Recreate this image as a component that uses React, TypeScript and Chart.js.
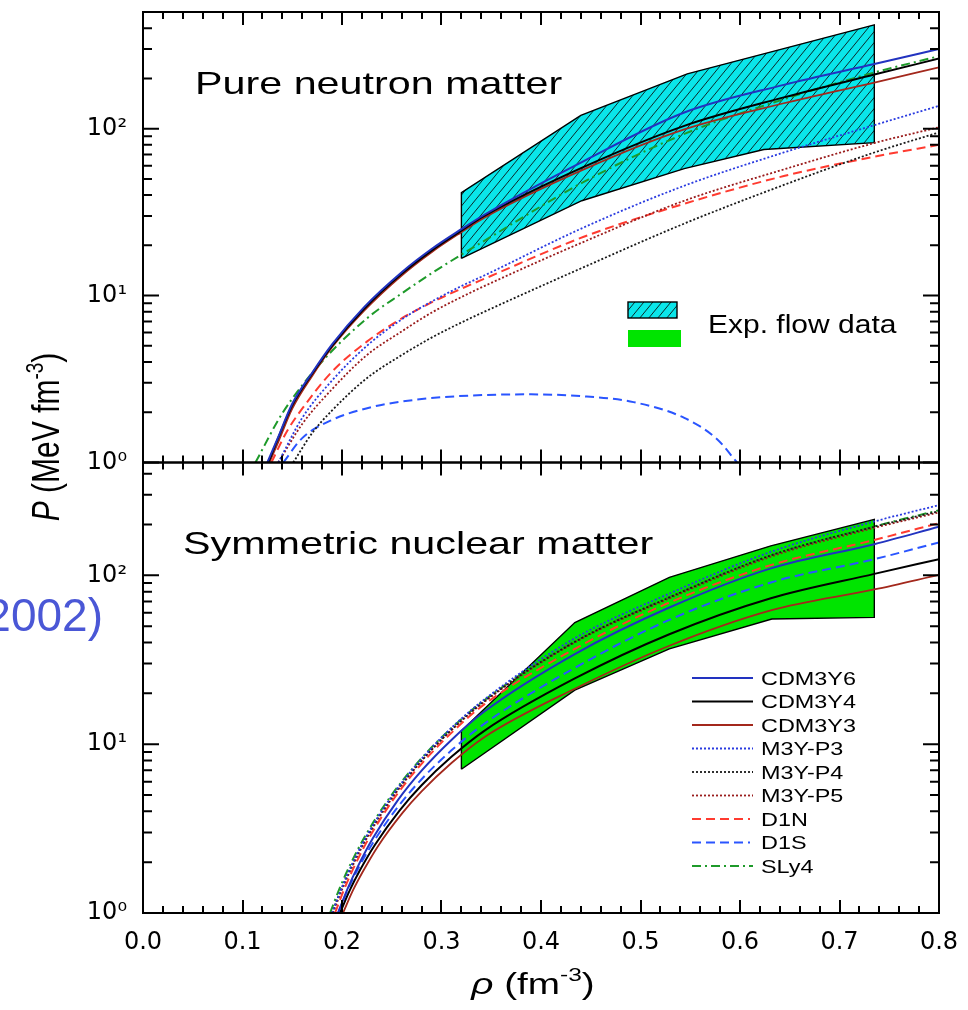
import React, { useEffect, useRef } from 'react';
import { Chart, registerables } from 'chart.js';

Chart.register(...registerables);

type Pt = [number, number];

// ---------------- axes / labels ----------------
const xTickValues = [0, 0.1, 0.2, 0.3, 0.4, 0.5, 0.6, 0.7, 0.8];
const xTickLabels = ['0.0', '0.1', '0.2', '0.3', '0.4', '0.5', '0.6', '0.7', '0.8'];
const yTickValues = [1, 10, 100];
const yTickLabels = ['10\u2070', '10\u00B9', '10\u00B2'];
const xRange = [0, 0.8];
const yTopRange = [1, 500];
const yBotRange = [1, 466];

const panelTitles = ['Pure neutron matter', 'Symmetric nuclear matter'];
const seriesNames = ['CDM3Y6', 'CDM3Y4', 'CDM3Y3', 'M3Y-P3', 'M3Y-P4', 'M3Y-P5', 'D1N', 'D1S', 'SLy4'];
const flowLabel = 'Exp. flow data';
const sideNote = '2002)';

// ---------------- Pure neutron matter (rho, P) ----------------
const pnmCDM3Y6: Pt[] = [[0.125, 1.0], [0.135, 1.38], [0.15, 2.25], [0.17, 3.45], [0.19, 5.1], [0.222, 8.5], [0.26, 13.8], [0.29, 19], [0.32, 25], [0.343, 30.5], [0.443, 64], [0.544, 125], [0.644, 183], [0.735, 244], [0.8, 300]];
const pnmCDM3Y4: Pt[] = [[0.126, 1.0], [0.135, 1.36], [0.15, 2.2], [0.17, 3.4], [0.19, 5.0], [0.222, 8.3], [0.26, 13.5], [0.29, 18.6], [0.32, 24.5], [0.343, 30], [0.443, 59], [0.544, 104], [0.644, 154], [0.735, 211], [0.8, 263]];
const pnmCDM3Y3: Pt[] = [[0.127, 1.0], [0.136, 1.33], [0.15, 2.1], [0.17, 3.3], [0.19, 4.9], [0.222, 8.1], [0.26, 13.2], [0.29, 18.2], [0.32, 24], [0.343, 29.3], [0.443, 57], [0.544, 99], [0.644, 142], [0.735, 189], [0.8, 233]];
const pnmM3YP3: Pt[] = [[0.136, 1.0], [0.16, 1.85], [0.19, 3.1], [0.225, 5.0], [0.26, 7.2], [0.29, 9.2], [0.32, 11.4], [0.343, 13.2], [0.443, 25.6], [0.544, 45.5], [0.644, 72], [0.735, 105], [0.8, 137]];
const pnmM3YP4: Pt[] = [[0.151, 1.0], [0.17, 1.5], [0.19, 2.05], [0.225, 3.2], [0.26, 4.4], [0.29, 5.6], [0.32, 6.9], [0.343, 8.0], [0.443, 14.8], [0.544, 27], [0.644, 46], [0.735, 72], [0.8, 95]];
const pnmM3YP5: Pt[] = [[0.136, 1.0], [0.16, 1.7], [0.19, 2.75], [0.225, 4.4], [0.26, 6.1], [0.29, 7.9], [0.32, 9.8], [0.343, 11.4], [0.443, 21], [0.544, 37], [0.644, 57], [0.735, 82], [0.8, 102]];
const pnmD1N: Pt[] = [[0.129, 1.0], [0.145, 1.55], [0.16, 2.1], [0.19, 3.5], [0.225, 5.3], [0.26, 7.3], [0.29, 9.1], [0.32, 11.0], [0.343, 12.6], [0.443, 22.5], [0.544, 35.5], [0.644, 52], [0.735, 68], [0.8, 80]];
const pnmD1S: Pt[] = [[0.141, 1.0], [0.16, 1.4], [0.19, 1.8], [0.23, 2.15], [0.275, 2.38], [0.33, 2.52], [0.39, 2.56], [0.44, 2.5], [0.493, 2.3], [0.544, 1.85], [0.577, 1.38], [0.597, 1.0]];
const pnmSLy4: Pt[] = [[0.113, 1.0], [0.14, 1.97], [0.178, 3.9], [0.225, 7.3], [0.26, 10.3], [0.29, 13.6], [0.32, 17.6], [0.343, 21.3], [0.443, 48], [0.544, 93], [0.644, 150], [0.735, 217], [0.8, 272]];
const pnmFlowBand: Pt[] = [[0.32, 16.7], [0.32, 41.4], [0.44, 120], [0.547, 213], [0.735, 419], [0.735, 82.5], [0.624, 75], [0.544, 57.6], [0.441, 37], [0.32, 16.7]];

// ---------------- Symmetric nuclear matter (rho, P) ----------------
const snmCDM3Y6: Pt[] = [[0.196, 1.0], [0.206, 1.41], [0.216, 1.89], [0.231, 2.77], [0.256, 4.65], [0.28, 6.97], [0.31, 10.6], [0.343, 15.6], [0.434, 34.2], [0.529, 64.5], [0.631, 110], [0.735, 153], [0.8, 194]];
const snmCDM3Y4: Pt[] = [[0.198, 1.0], [0.208, 1.37], [0.218, 1.79], [0.233, 2.53], [0.258, 4.06], [0.28, 5.71], [0.31, 8.41], [0.343, 12.0], [0.434, 24.5], [0.529, 44.8], [0.631, 73.2], [0.735, 102], [0.8, 124.7]];
const snmCDM3Y3: Pt[] = [[0.201, 1.0], [0.211, 1.36], [0.221, 1.76], [0.236, 2.48], [0.261, 3.93], [0.28, 5.25], [0.31, 7.73], [0.343, 11.0], [0.434, 21.3], [0.529, 38.3], [0.631, 62], [0.735, 82.5], [0.8, 100.7]];
const snmM3YP3: Pt[] = [[0.19, 1.0], [0.2, 1.42], [0.21, 1.94], [0.225, 2.88], [0.25, 4.92], [0.28, 8.2], [0.31, 12.5], [0.343, 18.4], [0.434, 42.4], [0.529, 78], [0.631, 137.8], [0.735, 208.5], [0.8, 260.7]];
const snmM3YP4: Pt[] = [[0.19, 1.0], [0.2, 1.42], [0.21, 1.92], [0.225, 2.84], [0.25, 4.84], [0.28, 8.0], [0.31, 12.2], [0.343, 18.0], [0.434, 40.4], [0.529, 74], [0.631, 131.4], [0.735, 194], [0.8, 240]];
const snmM3YP5: Pt[] = [[0.191, 1.0], [0.201, 1.42], [0.211, 1.92], [0.226, 2.84], [0.251, 4.84], [0.28, 7.96], [0.31, 12.1], [0.343, 17.8], [0.434, 40], [0.529, 73], [0.631, 129], [0.735, 191], [0.8, 236]];
const snmD1N: Pt[] = [[0.193, 1.0], [0.203, 1.42], [0.213, 1.92], [0.228, 2.84], [0.253, 4.83], [0.28, 7.65], [0.31, 11.67], [0.343, 17.2], [0.434, 36.7], [0.529, 69], [0.631, 115], [0.735, 162], [0.8, 204]];
const snmD1S: Pt[] = [[0.196, 1.0], [0.206, 1.38], [0.216, 1.82], [0.231, 2.6], [0.256, 4.24], [0.28, 6.2], [0.31, 9.19], [0.343, 13.2], [0.434, 28.3], [0.529, 54.5], [0.631, 90.7], [0.735, 124.7], [0.8, 156.7]];
const snmSLy4: Pt[] = [[0.188, 1.0], [0.198, 1.42], [0.208, 1.92], [0.223, 2.84], [0.248, 4.83], [0.28, 8.27], [0.31, 12.45], [0.343, 18.2], [0.434, 40.6], [0.529, 74.5], [0.631, 131], [0.735, 195], [0.8, 243]];
const snmFlowBand: Pt[] = [[0.32, 7.1], [0.32, 12.0], [0.434, 52.5], [0.529, 97.3], [0.631, 149.5], [0.735, 214.5], [0.735, 56.4], [0.632, 55.1], [0.529, 36.7], [0.434, 20.9], [0.32, 7.1]];

const pnmSeries: Pt[][] = [pnmCDM3Y6, pnmCDM3Y4, pnmCDM3Y3, pnmM3YP3, pnmM3YP4, pnmM3YP5, pnmD1N, pnmD1S, pnmSLy4];
const snmSeries: Pt[][] = [snmCDM3Y6, snmCDM3Y4, snmCDM3Y3, snmM3YP3, snmM3YP4, snmM3YP5, snmD1N, snmD1S, snmSLy4];

// ---------------- styles ----------------
const STYLE: Record<string, { color: string; dash: number[]; width: number; legendEnd: number }> = {
  CDM3Y6: { color: '#2233c0', dash: [], width: 2, legendEnd: 61 },
  CDM3Y4: { color: '#000000', dash: [], width: 2, legendEnd: 61 },
  CDM3Y3: { color: '#a3281c', dash: [], width: 1.8, legendEnd: 61 },
  'M3Y-P3': { color: '#2a3be0', dash: [2, 2], width: 1.8, legendEnd: 61 },
  'M3Y-P4': { color: '#1a1a1a', dash: [2, 2], width: 1.8, legendEnd: 61 },
  'M3Y-P5': { color: '#9a1c1c', dash: [2, 2], width: 1.8, legendEnd: 61 },
  D1N: { color: '#ff3b30', dash: [9, 5], width: 2, legendEnd: 58 },
  D1S: { color: '#2a55ff', dash: [9, 5], width: 2, legendEnd: 58 },
  SLy4: { color: '#1e9a2a', dash: [9, 4, 2, 4], width: 2, legendEnd: 61 },
};
const CYAN = '#0ae6ea';
const GREEN = '#00e400';
const SANS = "'Liberation Sans', Arial, sans-serif";
const TICK_FONT = "'DejaVu Sans', sans-serif";
const SX = 1.29;

type Part = { t: string; italic?: boolean; sup?: boolean };

function drawRich(ctx: CanvasRenderingContext2D, parts: Part[], size: number, color: string, align: 'left' | 'center' | 'right') {
  const fontOf = (p: Part) => `${p.italic ? 'italic ' : ''}${p.sup ? Math.round(size * 0.62) : size}px ${SANS}`;
  let total = 0;
  const widths = parts.map((p) => {
    ctx.font = fontOf(p);
    const w = ctx.measureText(p.t).width;
    total += w;
    return w;
  });
  let x = align === 'center' ? -total / 2 : align === 'right' ? -total : 0;
  ctx.fillStyle = color;
  ctx.textBaseline = 'alphabetic';
  ctx.textAlign = 'left';
  parts.forEach((p, i) => {
    ctx.font = fontOf(p);
    ctx.fillText(p.t, x, p.sup ? -size * 0.42 : 0);
    x += widths[i];
  });
}

function textAt(ctx: CanvasRenderingContext2D, parts: Part[], x: number, y: number, size: number, sx: number, align: 'left' | 'center' | 'right', color = '#000', rotate = 0) {
  ctx.save();
  ctx.translate(x, y);
  ctx.scale(sx, 1);
  if (rotate) ctx.rotate(rotate);
  drawRich(ctx, parts, size, color, align);
  ctx.restore();
}

function makeHatch(ctx: CanvasRenderingContext2D): CanvasPattern | string {
  const c = document.createElement('canvas');
  const w = 9, h = 11;
  c.width = w;
  c.height = h;
  const g = c.getContext('2d');
  if (!g) return CYAN;
  g.fillStyle = CYAN;
  g.fillRect(0, 0, w, h);
  g.strokeStyle = '#0a2a2a';
  g.lineWidth = 1;
  g.beginPath();
  const k = h / w;
  for (const off of [-w, 0, w]) {
    g.moveTo(off - 1, h + k);
    g.lineTo(off + w + 1, -k);
  }
  g.stroke();
  return ctx.createPattern(c, 'repeat') || CYAN;
}

export default function App() {
  const ref = useRef<HTMLCanvasElement | null>(null);

  useEffect(() => {
    const canvas = ref.current;
    if (!canvas) return;
    const ctx0 = canvas.getContext('2d') as CanvasRenderingContext2D;
    const hatch = makeHatch(ctx0);

    const lineDs = (name: string, pts: Pt[], axis: string) => {
      const s = STYLE[name];
      return {
        type: 'line' as const,
        label: name,
        data: pts.map(([x, y]) => ({ x, y })),
        yAxisID: axis,
        borderColor: s.color,
        borderWidth: s.width,
        borderDash: s.dash,
        pointRadius: 0,
        fill: false,
        cubicInterpolationMode: 'monotone' as const,
        order: 1,
      };
    };

    const datasets: any[] = [
      {
        type: 'line', label: 'flowPNM', data: pnmFlowBand.map(([x, y]) => ({ x, y })), yAxisID: 'yTop',
        borderColor: '#000', borderWidth: 1.4, backgroundColor: hatch, fill: 'shape', pointRadius: 0, tension: 0, order: 10,
      },
      {
        type: 'line', label: 'flowSNM', data: snmFlowBand.map(([x, y]) => ({ x, y })), yAxisID: 'yBot',
        borderColor: '#000', borderWidth: 1.4, backgroundColor: GREEN, fill: 'shape', pointRadius: 0, tension: 0, order: 10,
      },
    ];
    seriesNames.forEach((n, i) => datasets.push(lineDs(n, pnmSeries[i], 'yTop')));
    seriesNames.forEach((n, i) => datasets.push(lineDs(n, snmSeries[i], 'yBot')));

    const yCommon = (range: number[], weight: number) => ({
      type: 'logarithmic' as const,
      position: 'left' as const,
      stack: 'panels',
      stackWeight: 1,
      weight,
      min: range[0],
      max: range[1],
      grid: { display: false, drawTicks: false },
      border: { display: false },
      afterBuildTicks: (s: any) => {
        s.ticks = yTickValues.filter((v) => v >= range[0] && v <= range[1]).map((v) => ({ value: v }));
      },
      afterFit: (s: any) => {
        s.width = 143;
        s.paddingTop = 0;
        s.paddingBottom = 0;
      },
      ticks: {
        autoSkip: false,
        padding: 16,
        color: '#000',
        font: { family: TICK_FONT, size: 24 },
        callback: (v: any) => {
          const i = yTickValues.indexOf(Number(v));
          return i >= 0 ? yTickLabels[i] : '';
        },
      },
    });

    const annotate = {
      id: 'annotate',
      afterDatasetsDraw(chart: any) {
        const ctx: CanvasRenderingContext2D = chart.ctx;
        const xs = chart.scales.x;
        ctx.save();
        ctx.strokeStyle = '#000';
        ctx.lineWidth = 2;
        for (const id of ['yTop', 'yBot']) {
          const ys = chart.scales[id];
          const L = xs.left, R = xs.right, T = ys.top, B = ys.bottom;
          ctx.beginPath();
          for (let i = 0; i <= 40; i++) {
            const v = xRange[0] + i * 0.02;
            const px = Math.round(xs.getPixelForValue(v));
            const len = i % 5 === 0 ? 13 : 7;
            ctx.moveTo(px, B);
            ctx.lineTo(px, B - len);
            ctx.moveTo(px, T);
            ctx.lineTo(px, T + len);
          }
          for (let d = 1; d <= 1000; d *= 10) {
            for (let m = 1; m <= 9; m++) {
              const v = m * d;
              if (v < ys.min || v > ys.max) continue;
              const py = ys.getPixelForValue(v);
              const len = m === 1 ? 16 : 9;
              ctx.moveTo(L, py);
              ctx.lineTo(L + len, py);
              ctx.moveTo(R, py);
              ctx.lineTo(R - len, py);
            }
          }
          ctx.stroke();
          ctx.strokeRect(L, T, R - L, B - T);
        }
        ctx.restore();
      },
      afterDraw(chart: any) {
        const ctx: CanvasRenderingContext2D = chart.ctx;
        const xs = chart.scales.x;
        const yTop = chart.scales.yTop;
        const yBot = chart.scales.yBot;
        const L = xs.left;

        // panel titles
        textAt(ctx, [{ t: panelTitles[0] }], L + 52, yTop.top + 82, 32, SX, 'left');
        textAt(ctx, [{ t: panelTitles[1] }], L + 40, yBot.top + 91, 32, SX, 'left');

        // axis titles
        textAt(ctx, [{ t: 'P', italic: true }, { t: ' (MeV fm' }, { t: '-3', sup: true }, { t: ')' }], 59, 437, 30, SX, 'center', '#000', -Math.PI / 2);
        textAt(ctx, [{ t: '\u03C1', italic: true }, { t: ' (fm' }, { t: '-3', sup: true }, { t: ')' }], 533, 994, 30, SX, 'center');

        // side note
        textAt(ctx, [{ t: sideNote }], 103, 631, 46, 1, 'right', '#4a57d6');

        // flow legend (top panel)
        ctx.save();
        ctx.fillStyle = hatch as any;
        ctx.fillRect(628, 302, 49, 16);
        ctx.strokeStyle = '#000';
        ctx.lineWidth = 1.4;
        ctx.strokeRect(628, 302, 49, 16);
        ctx.fillStyle = GREEN;
        ctx.fillRect(628, 330, 53, 17);
        ctx.restore();
        textAt(ctx, [{ t: flowLabel }], 708, 333, 25, 1.2, 'left');

        // series legend (bottom panel)
        const lx = 692, tx = 761, y0 = 678, step = 23.5;
        seriesNames.forEach((n, i) => {
          const s = STYLE[n];
          const y = y0 + i * step;
          ctx.save();
          ctx.strokeStyle = s.color;
          ctx.lineWidth = s.width;
          ctx.setLineDash(s.dash);
          ctx.beginPath();
          ctx.moveTo(lx, y);
          ctx.lineTo(lx + s.legendEnd, y);
          ctx.stroke();
          ctx.restore();
          textAt(ctx, [{ t: n }], tx, y + 6.5, 18, 1.3, 'left');
        });
      },
    };

    const chart = new Chart(canvas, {
      type: 'line',
      data: { datasets },
      options: {
        responsive: false,
        animation: false,
        devicePixelRatio: 1,
        events: [],
        layout: { padding: { top: 12, right: 29, left: 0, bottom: 0 } },
        plugins: { legend: { display: false }, tooltip: { enabled: false }, title: { display: false } },
        scales: {
          x: {
            type: 'linear',
            position: 'bottom',
            min: xRange[0],
            max: xRange[1],
            grid: { display: false, drawTicks: false },
            border: { display: false },
            afterBuildTicks: (s: any) => {
              s.ticks = xTickValues.map((v) => ({ value: v }));
            },
            afterFit: (s: any) => {
              s.height = 97;
              s.paddingLeft = 0;
              s.paddingRight = 0;
            },
            ticks: {
              autoSkip: false,
              maxRotation: 0,
              padding: 15,
              color: '#000',
              font: { family: TICK_FONT, size: 24 },
              callback: (_v: any, i: number) => xTickLabels[i],
            },
          },
          yTop: yCommon(yTopRange, 2),
          yBot: yCommon(yBotRange, 1),
        } as any,
      },
      plugins: [annotate],
    } as any);

    return () => chart.destroy();
  }, []);

  return (
    <div style={{ position: 'absolute', left: 0, top: 0, width: 968, height: 1010, background: '#fff' }}>
      <canvas ref={ref} width={968} height={1010} style={{ display: 'block', width: 968, height: 1010 }} />
    </div>
  );
}
